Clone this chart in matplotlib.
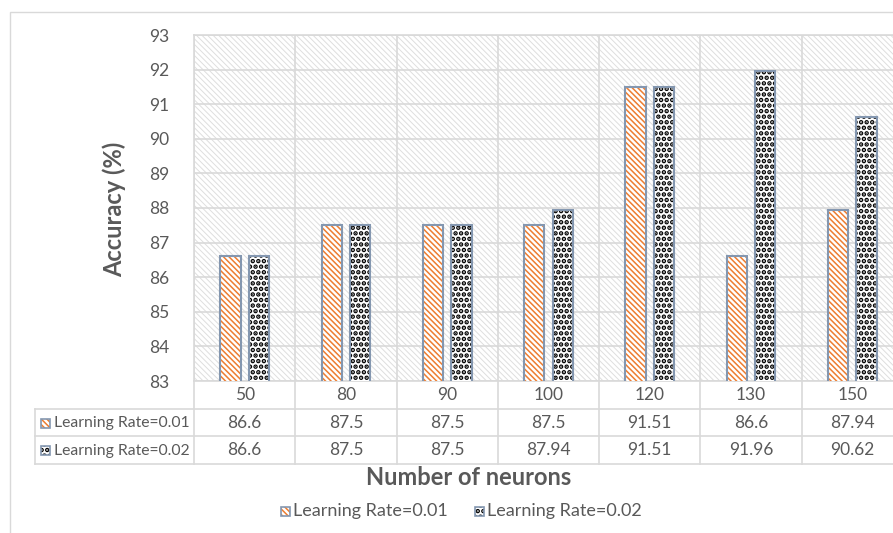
import numpy as np
import matplotlib
matplotlib.use("Agg")
import matplotlib.pyplot as plt
from matplotlib.patches import Rectangle
from matplotlib.lines import Line2D

# ---- data ----
neurons = ["50", "80", "90", "100", "120", "130", "150"]
lr_001 = [86.6, 87.5, 87.5, 87.5, 91.51, 86.6, 87.94]
lr_002 = [86.6, 87.5, 87.5, 87.94, 91.51, 91.96, 90.62]
series_names = ["Learning Rate=0.01", "Learning Rate=0.02"]
y_ticks = list(range(83, 94))

# ---- style ----
plt.rcParams["font.family"] = ["Lato", "DejaVu Sans"]
TXT = "#595959"
GRID = "#d9d9d9"
EDGE = "#8497b0"
ORANGE = "#ed7d31"
series_style = [
    dict(hatch="\\" * 6, color=ORANGE, hlw=1.1),
    dict(hatch="...", color="black", hlw=2.3),
]

W, H = 893, 533
fig = plt.figure(figsize=(W / 100, H / 100), dpi=100)
fig.patch.set_facecolor("white")


def px_box(x0, y0, x1, y1):
    """Axes rectangle from pixel coordinates measured from the top-left."""
    return [x0 / W, 1 - y1 / H, (x1 - x0) / W, (y1 - y0) / H]


def set_hlw(patch, lw):
    if hasattr(patch, "set_hatch_linewidth"):
        patch.set_hatch_linewidth(lw)


def hatched_rect(xy, w, h, style, transform, zorder=3):
    """White box with a coloured hatch and a blue-grey outline."""
    with plt.rc_context({"hatch.linewidth": style["hlw"]}):
        fill = Rectangle(xy, w, h, transform=transform, facecolor="white",
                         edgecolor=style["color"], hatch=style["hatch"],
                         linewidth=0, zorder=zorder)
    set_hlw(fill, style["hlw"])
    border = Rectangle(xy, w, h, transform=transform, fill=False,
                       edgecolor=EDGE, linewidth=1.2, zorder=zorder + 0.1)
    return fill, border


# outer chart frame
fig.add_artist(Rectangle((10 / W, -0.1), 2, 1 - 12 / H + 0.1,
                         transform=fig.transFigure, fill=False,
                         edgecolor=GRID, linewidth=1.0))

# ---- main axes ----
ax = fig.add_axes(px_box(194, 35, 903, 381))
n = len(neurons)
x = np.arange(n)
ax.set_xlim(-0.5, n - 0.5)
ax.set_ylim(y_ticks[0], y_ticks[-1])

# hatched plot-area background
with plt.rc_context({"hatch.linewidth": 0.7}):
    bg = Rectangle((0, 0), 1, 1, transform=ax.transAxes, facecolor="white",
                   edgecolor="#dedede", hatch="\\" * 6, linewidth=0, zorder=0)
set_hlw(bg, 0.7)
ax.add_patch(bg)

ax.set_yticks(y_ticks)
ax.set_xticks(np.arange(-0.5, n, 1.0), minor=True)
ax.set_xticks([])
ax.grid(True, which="major", axis="y", color=GRID, linewidth=1.2, zorder=1)
ax.grid(True, which="minor", axis="x", color=GRID, linewidth=1.2, zorder=1)
ax.set_axisbelow(True)
ax.tick_params(axis="y", length=0, pad=18, labelsize=12.5, labelcolor=TXT)
ax.tick_params(axis="x", which="both", length=0, labelbottom=False)
for s in ax.spines.values():
    s.set_color(GRID)
    s.set_linewidth(1.2)
ax.spines["right"].set_visible(False)

bw, off = 0.2, 0.14
for vals, sign, st in [(lr_001, -1, series_style[0]), (lr_002, 1, series_style[1])]:
    with plt.rc_context({"hatch.linewidth": st["hlw"]}):
        bars = ax.bar(x + sign * off, vals, width=bw, color="white",
                      edgecolor=st["color"], hatch=st["hatch"], linewidth=0,
                      zorder=3)
    for b in bars:
        set_hlw(b, st["hlw"])
    ax.bar(x + sign * off, vals, width=bw, fill=False, edgecolor=EDGE,
           linewidth=1.5, zorder=4)

fig.text(114 / W, 1 - 209 / H, "Accuracy (%)", rotation=90, ha="center",
         va="center", fontsize=17, fontweight="bold", color=TXT)

# ---- data table under the axis ----
tax = fig.add_axes(px_box(194, 381, 903, 464))
tax.set_xlim(-0.5, n - 0.5)
tax.set_ylim(3, 0)
tax.axis("off")
col_px = (903 - 194) / n
left_edge = -0.5 + (35 - 194) / col_px
lk = dict(color=GRID, linewidth=1.2, clip_on=False)
for yy in (1, 2, 3):
    tax.add_line(Line2D([left_edge, n - 0.5], [yy, yy], **lk))
for xx in np.arange(-0.5, n, 1.0):
    tax.add_line(Line2D([xx, xx], [0, 3], **lk))
tax.add_line(Line2D([left_edge, left_edge], [1, 3], **lk))

for i in range(n):
    tax.text(i, 0.5, neurons[i], ha="center", va="center", fontsize=12.5,
             color=TXT)
    tax.text(i, 1.5, f"{lr_001[i]:g}", ha="center", va="center", fontsize=12.5,
             color=TXT)
    tax.text(i, 2.5, f"{lr_002[i]:g}", ha="center", va="center", fontsize=12.5,
             color=TXT)

for r, (name, st) in enumerate(zip(series_names, series_style)):
    yc = 423 + r * 27.5
    for p in hatched_rect((41 / W, 1 - (yc + 4.5) / H), 9 / W, 9 / H, st,
                          fig.transFigure):
        fig.add_artist(p)
    fig.text(54 / W, 1 - yc / H, name, ha="left", va="center", fontsize=11.3,
             color=TXT)

fig.text(469 / W, 1 - 485 / H, "Number of neurons", ha="center",
         va="baseline", fontsize=17, fontweight="bold", color=TXT)

# ---- legend row ----
for (kx, name, st) in [(281, series_names[0], series_style[0]),
                       (475, series_names[1], series_style[1])]:
    yc = 511
    for p in hatched_rect((kx / W, 1 - (yc + 4.5) / H), 9 / W, 9 / H, st,
                          fig.transFigure):
        fig.add_artist(p)
    fig.text((kx + 12) / W, 1 - yc / H, name, ha="left", va="center",
             fontsize=13, color=TXT)

fig.savefig("out.png", dpi=100)
